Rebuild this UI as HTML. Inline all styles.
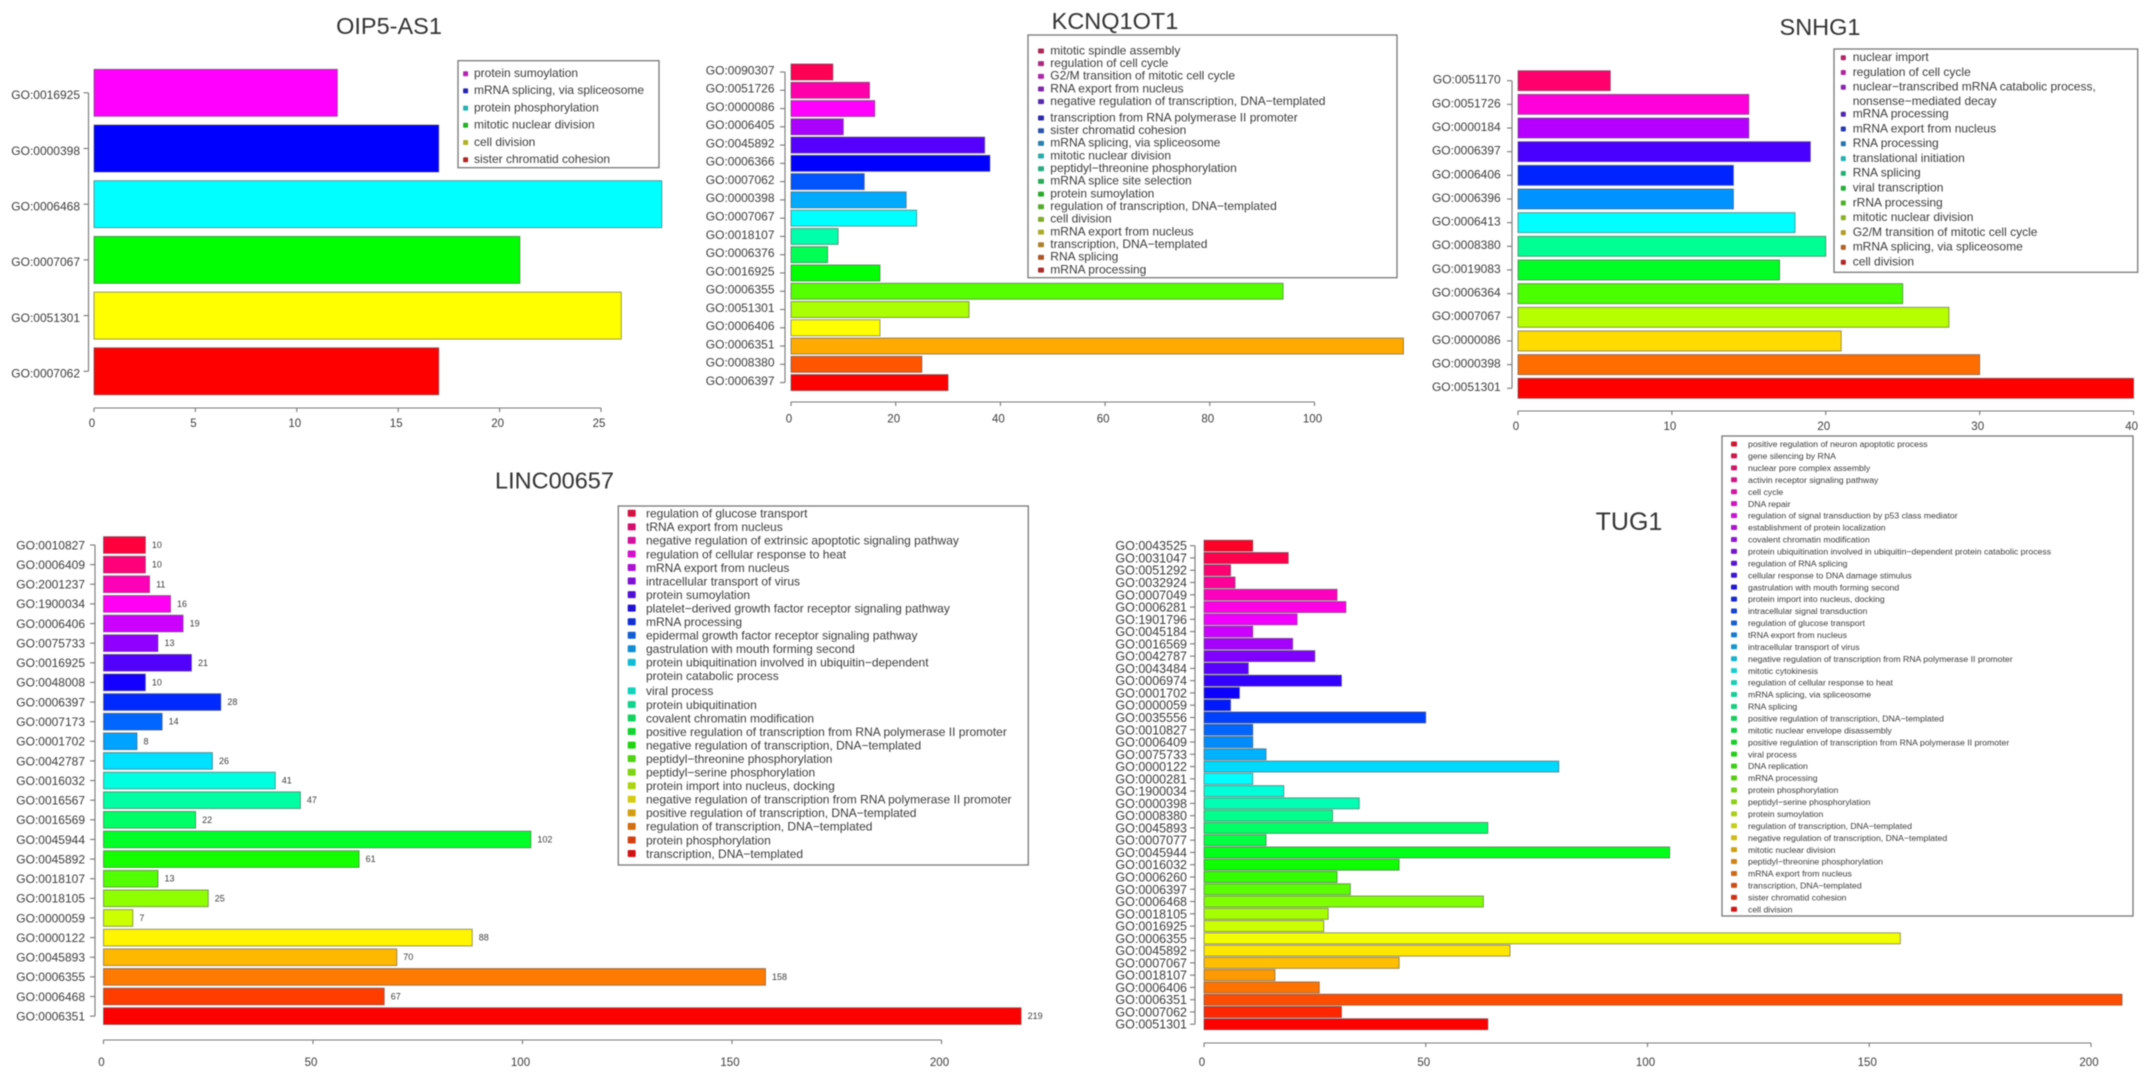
<!DOCTYPE html>
<html lang="en">
<head>
<meta charset="utf-8">
<title>GO enrichment bar charts</title>
<style>
html,body{margin:0;padding:0;background:#fff;width:2150px;height:1084px;overflow:hidden}
svg{display:block;filter:blur(0.65px)}
text{font-family:"Liberation Sans",sans-serif;fill:#3c3c3c}
</style>
</head>
<body>
<svg id="chart" xmlns="http://www.w3.org/2000/svg" width="2150" height="1084" viewBox="0 0 2150 1084">
<rect x="0" y="0" width="2150" height="1084" fill="#fff"/>
<text x="389" y="34" font-size="23.5" text-anchor="middle" style="fill:#333">OIP5-AS1</text>
<text x="1115" y="29" font-size="23.5" text-anchor="middle" style="fill:#333">KCNQ1OT1</text>
<text x="1820" y="35" font-size="23.5" text-anchor="middle" style="fill:#333">SNHG1</text>
<text x="554.5" y="488.5" font-size="23.5" text-anchor="middle" style="fill:#333">LINC00657</text>
<text x="1629" y="530" font-size="25" text-anchor="middle" style="fill:#333">TUG1</text>
</svg>
<script>
const oipCategories = ["GO:0016925","GO:0000398","GO:0006468","GO:0007067","GO:0051301","GO:0007062"];
const oipValues = [12,17,28,21,26,17];
const oipTicks = [0,5,10,15,20,25];
const oipLegend = ["protein sumoylation","mRNA splicing, via spliceosome","protein phosphorylation","mitotic nuclear division","cell division","sister chromatid cohesion"];

const kcnCategories = ["GO:0090307","GO:0051726","GO:0000086","GO:0006405","GO:0045892","GO:0006366","GO:0007062","GO:0000398","GO:0007067","GO:0018107","GO:0006376","GO:0016925","GO:0006355","GO:0051301","GO:0006406","GO:0006351","GO:0008380","GO:0006397"];
const kcnValues = [8,15,16,10,37,38,14,22,24,9,7,17,94,34,17,117,25,30];
const kcnTicks = [0,20,40,60,80,100];
const kcnLegend = ["mitotic spindle assembly","regulation of cell cycle","G2/M transition of mitotic cell cycle","RNA export from nucleus","negative regulation of transcription, DNA\u2212templated","transcription from RNA polymerase II promoter","sister chromatid cohesion","mRNA splicing, via spliceosome","mitotic nuclear division","peptidyl\u2212threonine phosphorylation","mRNA splice site selection","protein sumoylation","regulation of transcription, DNA\u2212templated","cell division","mRNA export from nucleus","transcription, DNA\u2212templated","RNA splicing","mRNA processing"];

const snhCategories = ["GO:0051170","GO:0051726","GO:0000184","GO:0006397","GO:0006406","GO:0006396","GO:0006413","GO:0008380","GO:0019083","GO:0006364","GO:0007067","GO:0000086","GO:0000398","GO:0051301"];
const snhValues = [6,15,15,19,14,14,18,20,17,25,28,21,30,40];
const snhTicks = [0,10,20,30,40];
const snhLegend = ["nuclear import","regulation of cell cycle","nuclear\u2212transcribed mRNA catabolic process,\nnonsense\u2212mediated decay","mRNA processing","mRNA export from nucleus","RNA processing","translational initiation","RNA splicing","viral transcription","rRNA processing","mitotic nuclear division","G2/M transition of mitotic cell cycle","mRNA splicing, via spliceosome","cell division"];

const lincCategories = ["GO:0010827","GO:0006409","GO:2001237","GO:1900034","GO:0006406","GO:0075733","GO:0016925","GO:0048008","GO:0006397","GO:0007173","GO:0001702","GO:0042787","GO:0016032","GO:0016567","GO:0016569","GO:0045944","GO:0045892","GO:0018107","GO:0018105","GO:0000059","GO:0000122","GO:0045893","GO:0006355","GO:0006468","GO:0006351"];
const lincValues = [10,10,11,16,19,13,21,10,28,14,8,26,41,47,22,102,61,13,25,7,88,70,158,67,219];
const lincTicks = [0,50,100,150,200];
const lincLegend = ["regulation of glucose transport","tRNA export from nucleus","negative regulation of extrinsic apoptotic signaling pathway","regulation of cellular response to heat","mRNA export from nucleus","intracellular transport of virus","protein sumoylation","platelet\u2212derived growth factor receptor signaling pathway","mRNA processing","epidermal growth factor receptor signaling pathway","gastrulation with mouth forming second","protein ubiquitination involved in ubiquitin\u2212dependent\nprotein catabolic process","viral process","protein ubiquitination","covalent chromatin modification","positive regulation of transcription from RNA polymerase II promoter","negative regulation of transcription, DNA\u2212templated","peptidyl\u2212threonine phosphorylation","peptidyl\u2212serine phosphorylation","protein import into nucleus, docking","negative regulation of transcription from RNA polymerase II promoter","positive regulation of transcription, DNA\u2212templated","regulation of transcription, DNA\u2212templated","protein phosphorylation","transcription, DNA\u2212templated"];

const tugCategories = ["GO:0043525","GO:0031047","GO:0051292","GO:0032924","GO:0007049","GO:0006281","GO:1901796","GO:0045184","GO:0016569","GO:0042787","GO:0043484","GO:0006974","GO:0001702","GO:0000059","GO:0035556","GO:0010827","GO:0006409","GO:0075733","GO:0000122","GO:0000281","GO:1900034","GO:0000398","GO:0008380","GO:0045893","GO:0007077","GO:0045944","GO:0016032","GO:0006260","GO:0006397","GO:0006468","GO:0018105","GO:0016925","GO:0006355","GO:0045892","GO:0007067","GO:0018107","GO:0006406","GO:0006351","GO:0007062","GO:0051301"];
const tugValues = [11,19,6,7,30,32,21,11,20,25,10,31,8,6,50,11,11,14,80,11,18,35,29,64,14,105,44,30,33,63,28,27,157,69,44,16,26,207,31,64];
const tugTicks = [0,50,100,150,200];
const tugLegend = ["positive regulation of neuron apoptotic process","gene silencing by RNA","nuclear pore complex assembly","activin receptor signaling pathway","cell cycle","DNA repair","regulation of signal transduction by p53 class mediator","establishment of protein localization","covalent chromatin modification","protein ubiquitination involved in ubiquitin\u2212dependent protein catabolic process","regulation of RNA splicing","cellular response to DNA damage stimulus","gastrulation with mouth forming second","protein import into nucleus, docking","intracellular signal transduction","regulation of glucose transport","tRNA export from nucleus","intracellular transport of virus","negative regulation of transcription from RNA polymerase II promoter","mitotic cytokinesis","regulation of cellular response to heat","mRNA splicing, via spliceosome","RNA splicing","positive regulation of transcription, DNA\u2212templated","mitotic nuclear envelope disassembly","positive regulation of transcription from RNA polymerase II promoter","viral process","DNA replication","mRNA processing","protein phosphorylation","peptidyl\u2212serine phosphorylation","protein sumoylation","regulation of transcription, DNA\u2212templated","negative regulation of transcription, DNA\u2212templated","mitotic nuclear division","peptidyl\u2212threonine phosphorylation","mRNA export from nucleus","transcription, DNA\u2212templated","sister chromatid cohesion","cell division"];

const NS = "http://www.w3.org/2000/svg";
const svg = document.getElementById("chart");

function make(tag, attrs, parent) {
  const el = document.createElementNS(NS, tag);
  for (const k in attrs) el.setAttribute(k, attrs[k]);
  parent.appendChild(el);
  return el;
}

function drawPanel(p) {
  const xScale = v => p.x0 + v * p.k;
  const yScale = i => p.top + i * p.pitch;
  const n = p.categories.length;
  const g = make("g", {}, svg);
  
  

  // bars
  p.values.forEach((v, i) => {
    const hue = 360 * (n - 1 - i) / n;
    const bar = make("rect", {
      x: xScale(0), y: yScale(i) - p.barH / 2, width: xScale(v) - xScale(0), height: p.barH,
      fill: "hsl(" + hue + ",100%,50%)", stroke: "rgba(70,70,70,0.55)", "stroke-width": 1
    }, g);
    
    

    if (p.showValues) {
      const valueLabel = make("text", {
        x: xScale(v) + 6.5, y: yScale(i) + 3, "font-size": 9
      }, g);
      
      
      valueLabel.textContent = v;
    }
  });

  // y axis
  const yLine = make("line", {
    x1: p.axisX, x2: p.axisX, y1: yScale(0), y2: yScale(n - 1), stroke: "#777", "stroke-width": 1.1
  }, g);
  
  

  p.categories.forEach((c, i) => {
    const tick = make("line", {
      x1: p.axisX - 5, x2: p.axisX, y1: yScale(i), y2: yScale(i), stroke: "#777", "stroke-width": 1.1
    }, g);
    
    

    const label = make("text", {
      x: p.labelEnd, y: yScale(i) + p.labelDy + p.labelSize * 0.36,
      "font-size": p.labelSize, "text-anchor": "end"
    }, g);
    
    
    label.textContent = c;
  });

  // x axis
  const xLine = make("line", {
    x1: xScale(p.ticks[0]), x2: xScale(p.ticks[p.ticks.length - 1]), y1: p.axisY, y2: p.axisY,
    stroke: "#777", "stroke-width": 1.1
  }, g);
  
  

  p.ticks.forEach(t => {
    const tick = make("line", {
      x1: xScale(t), x2: xScale(t), y1: p.axisY, y2: p.axisY + 4, stroke: "#777", "stroke-width": 1.1
    }, g);
    
    

    const label = make("text", {
      x: xScale(t) - 2, y: p.tickLabelY + 4, "font-size": 11.5, "text-anchor": "middle"
    }, g);
    
    
    label.textContent = t;
  });

  // legend
  const L = p.legend;
  const box = make("rect", {
    x: L.x, y: L.y, width: L.w, height: L.h, fill: "none", stroke: "#777", "stroke-width": 1.3
  }, g);
  
  

  let rowY = L.first;
  const m = p.entries.length;
  p.entries.forEach((entry, i) => {
    const hue = 360 * (m - 1 - i) / m;
    const marker = make("rect", {
      x: L.markerX - L.mw / 2, y: rowY - L.mh / 2 + L.markerDy, width: L.mw, height: L.mh, rx: 1,
      fill: "hsl(" + hue + "," + L.sat + "%," + L.light + "%)"
    }, g);
    
    

    const lines = entry.split("\n");
    lines.forEach((ln, j) => {
      const txt = make("text", {
        x: L.textX, y: rowY + j * L.wrapLine + L.size * 0.36, "font-size": L.size
      }, g);
      
      
      txt.textContent = ln;
    });
    rowY += L.pitch;
    if (lines.length > 1) rowY += L.wrapExtra;
    if (i === L.gapAfter) rowY += L.gap;
  });
}

drawPanel({
  name: "oip5-as1", categories: oipCategories, values: oipValues, ticks: oipTicks, entries: oipLegend,
  x0: 94, k: 20.28, top: 92.8, pitch: 55.7, barH: 47,
  axisX: 88.5, labelEnd: 80, labelSize: 12, labelDy: 2, axisY: 408, tickLabelY: 423,
  legend: { x: 458, y: 60.7, w: 201, h: 107, first: 72.7, pitch: 17.2, markerX: 465.6, textX: 474, size: 12, mw: 5, mh: 5, markerDy: 1, sat: 65, light: 42, wrapLine: 14, wrapExtra: 0, gapAfter: -1, gap: 0 }
});

drawPanel({
  name: "kcnq1ot1", categories: kcnCategories, values: kcnValues, ticks: kcnTicks, entries: kcnLegend,
  x0: 791, k: 5.235, top: 72, pitch: 18.27, barH: 16,
  axisX: 785, labelEnd: 774.5, labelSize: 12, labelDy: -2, axisY: 402, tickLabelY: 418.3,
  legend: { x: 1028, y: 35, w: 369, h: 242.7, first: 50, pitch: 12.67, markerX: 1041, textX: 1050.3, size: 12, mw: 6, mh: 5, markerDy: 1, sat: 60, light: 42, wrapLine: 14, wrapExtra: 0, gapAfter: 4, gap: 3.7 }
});

drawPanel({
  name: "snhg1", categories: snhCategories, values: snhValues, ticks: snhTicks, entries: snhLegend,
  x0: 1518, k: 15.39, top: 80.7, pitch: 23.66, barH: 20,
  axisX: 1512, labelEnd: 1500.7, labelSize: 12, labelDy: -1.4, axisY: 411, tickLabelY: 426,
  legend: { x: 1834, y: 49, w: 303.7, h: 223.3, first: 56.7, pitch: 14.8, markerX: 1843.3, textX: 1852.7, size: 12, mw: 5, mh: 5, markerDy: 1, sat: 65, light: 42, wrapLine: 14.3, wrapExtra: 12.1, gapAfter: -1, gap: 0 }
});

drawPanel({
  name: "linc00657", categories: lincCategories, values: lincValues, ticks: lincTicks, entries: lincLegend, showValues: true,
  x0: 103.5, k: 4.19, top: 545, pitch: 19.63, barH: 16.7,
  axisX: 95, labelEnd: 85, labelSize: 12, labelDy: 0, axisY: 1040, tickLabelY: 1062,
  legend: { x: 618.3, y: 506, w: 410, h: 359, first: 513.3, pitch: 13.55, markerX: 631.7, textX: 646, size: 12, mw: 8, mh: 7, markerDy: 0, sat: 85, light: 45, wrapLine: 13.5, wrapExtra: 15, gapAfter: -1, gap: 0 }
});

drawPanel({
  name: "tug1", categories: tugCategories, values: tugValues, ticks: tugTicks, entries: tugLegend,
  x0: 1204, k: 4.435, top: 545.7, pitch: 12.27, barH: 11,
  axisX: 1195, labelEnd: 1187, labelSize: 12.5, labelDy: 0, axisY: 1043, tickLabelY: 1062,
  legend: { x: 1722, y: 436, w: 411, h: 480, first: 444, pitch: 11.93, markerX: 1734, textX: 1748, size: 8.7, mw: 6, mh: 5, markerDy: 0, sat: 80, light: 45, wrapLine: 10, wrapExtra: 0, gapAfter: -1, gap: 0 }
});
</script>
</body>
</html>
